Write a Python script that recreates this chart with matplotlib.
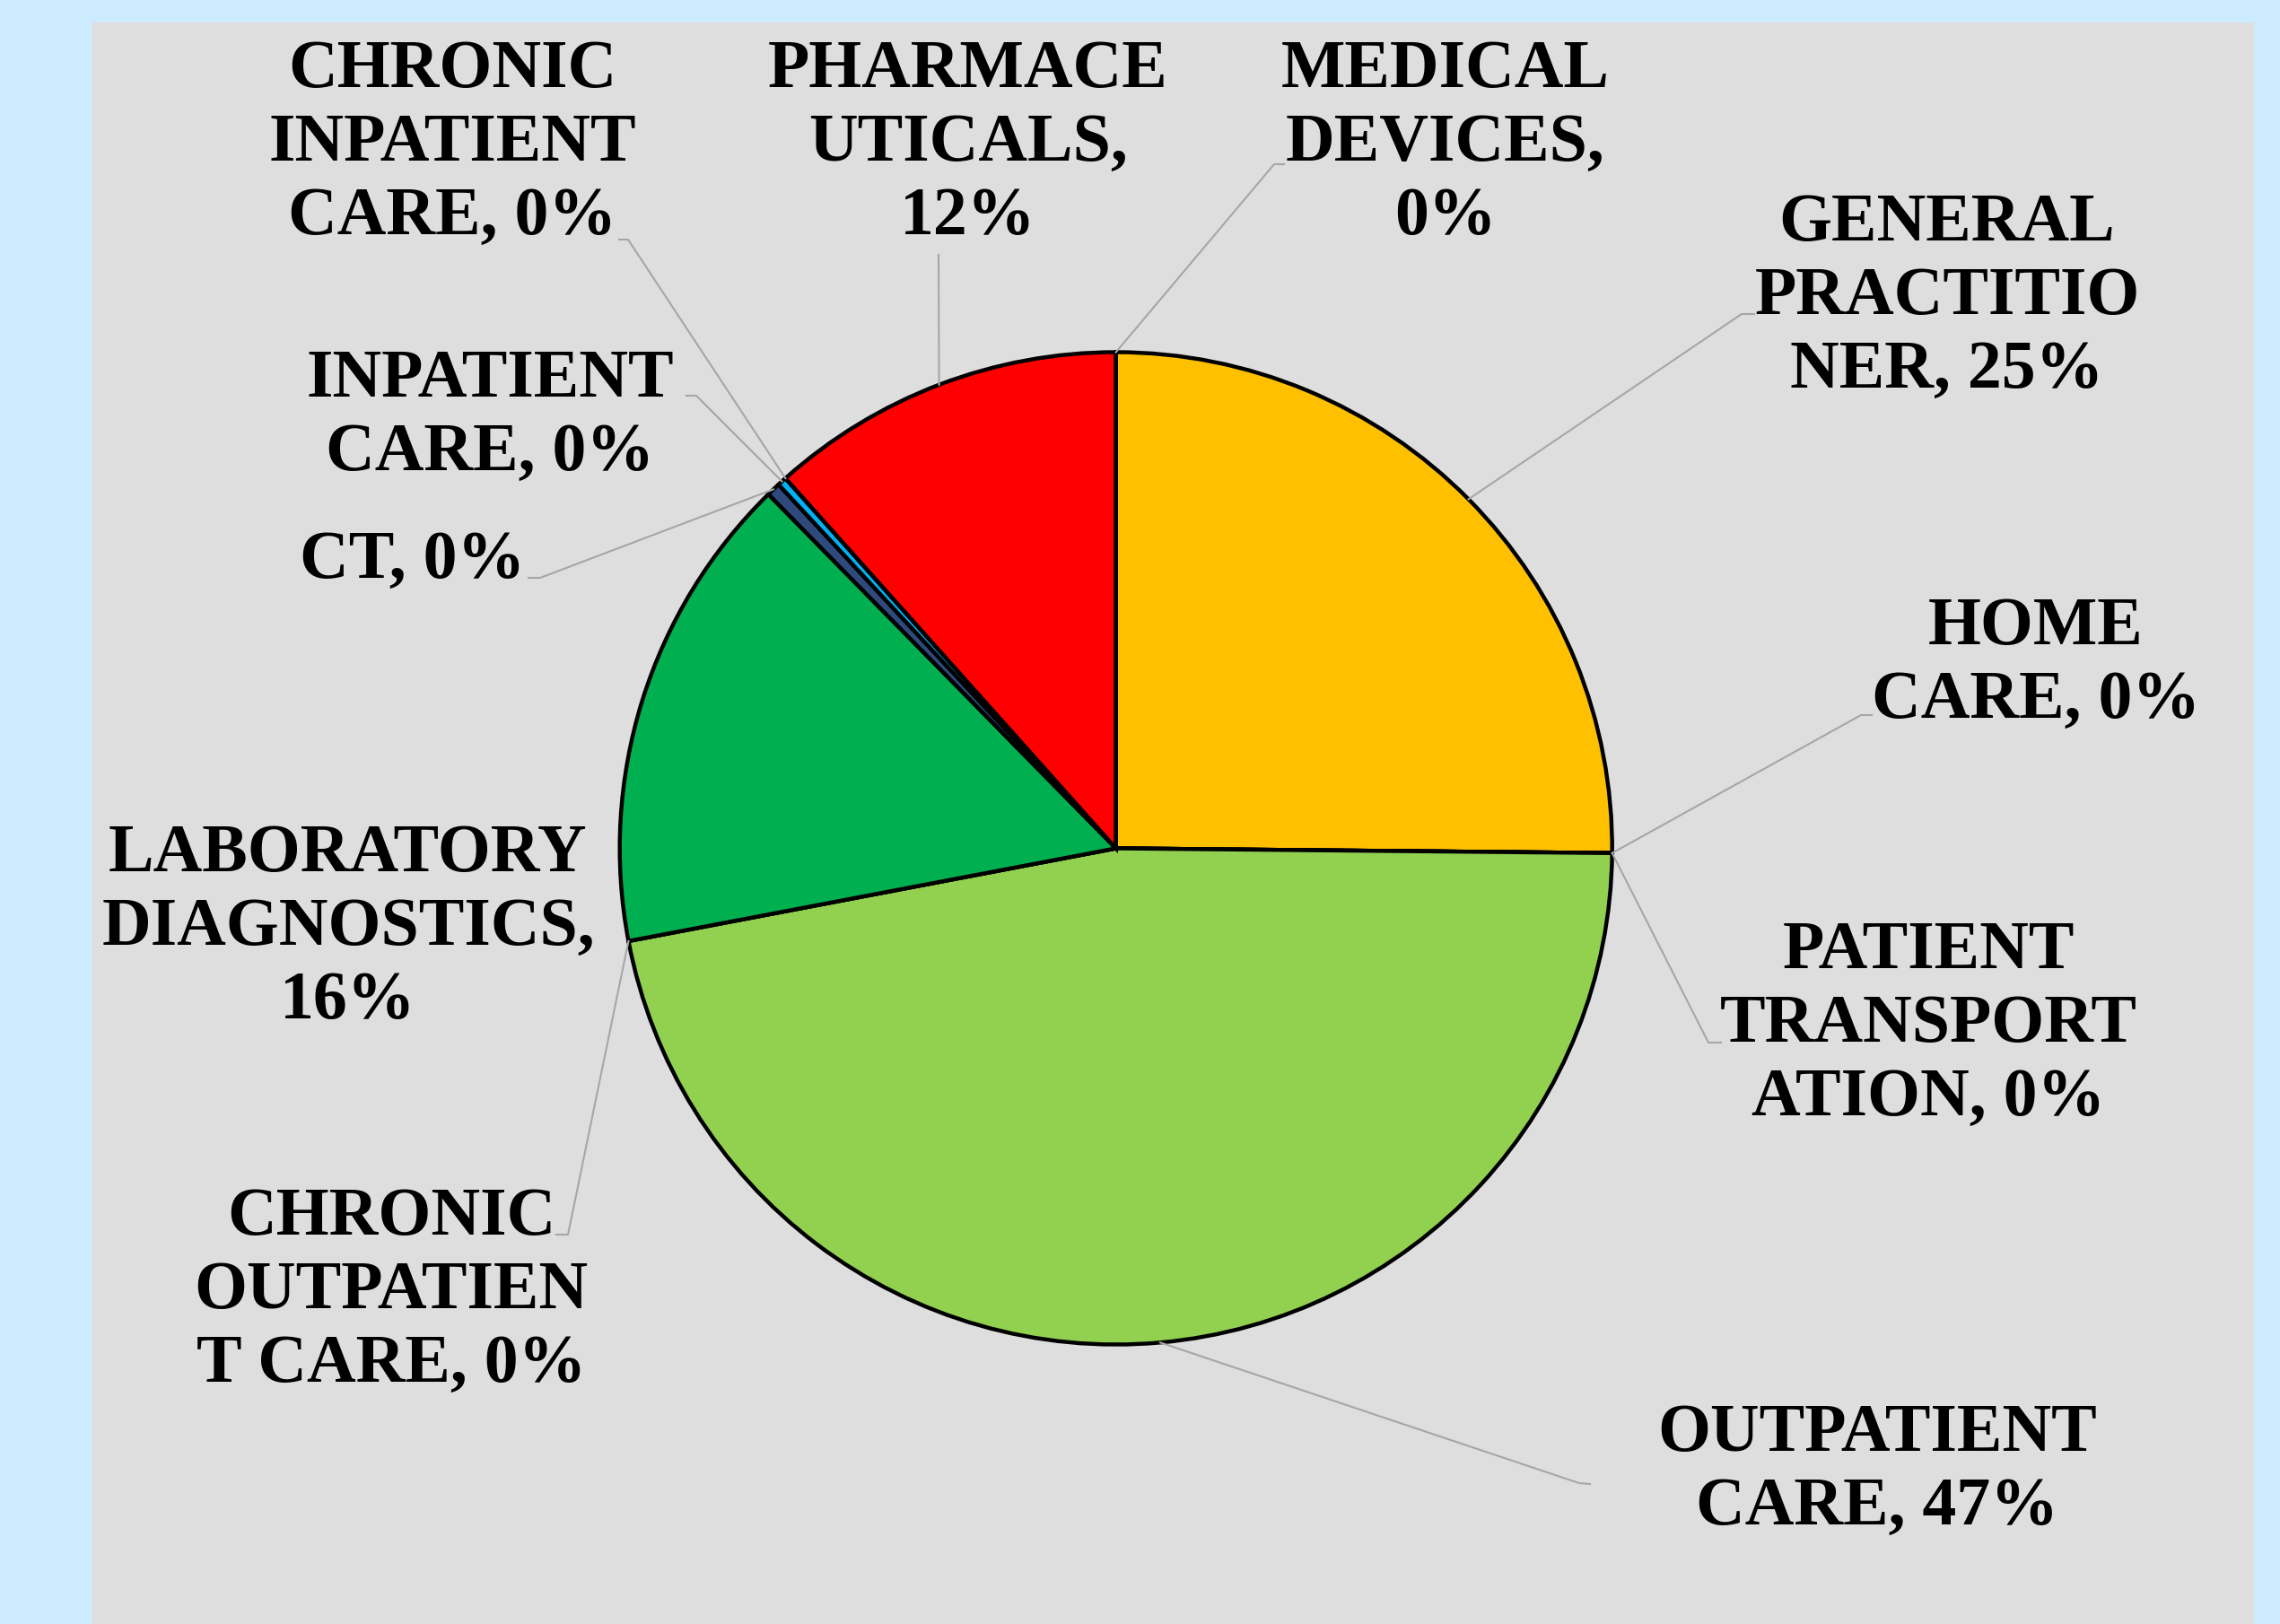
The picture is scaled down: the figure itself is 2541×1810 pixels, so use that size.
import matplotlib.pyplot as plt
import numpy as np

# Data (share of costs, %)
categories = ["General practitioner", "Home care", "Patient transportation",
              "Outpatient care", "Chronic outpatient care", "Laboratory diagnostics",
              "CT", "Inpatient care", "Chronic inpatient care", "Pharmaceuticals",
              "Medical devices"]
values = [25.15, 0.0, 0.0, 46.85, 0.0, 15.64, 0.45, 0.30, 0.0, 11.6, 0.0]
colors = ["#FFC000", "#FFC000", "#92D050", "#92D050", "#92D050", "#00B050",
          "#2E4A7D", "#00B0F0", "#00B0F0", "#FF0000", "#FF0000"]
# label text as wrapped in the original chart
label_text = ["GENERAL\nPRACTITIO\nNER, {}%", "HOME\nCARE, {}%",
              "PATIENT\nTRANSPORT\nATION, {}%", "OUTPATIENT\nCARE, {}%",
              "CHRONIC\nOUTPATIEN\nT CARE, {}%", "LABORATORY\nDIAGNOSTICS,\n{}%",
              "CT, {}%", "INPATIENT\nCARE, {}%", "CHRONIC\nINPATIENT\nCARE, {}%",
              "PHARMACE\nUTICALS,\n{}%", "MEDICAL\nDEVICES,\n{}%"]

# layout in image pixels (y measured from top)
W, H = 2541, 1810
CX, CY, R = 1243.7, 945.5, 553
# label: centre x, first baseline, leader anchor (or None)
label_pos = [(2170, 268, (1941, 350)), (2269, 718, (2074, 797)),
             (2149, 1079, (1904, 1162)), (2092, 1617, (1760, 1653)),
             (436, 1376, (633, 1376)), (388, 971, None),
             (460, 644, (602, 644)), (546, 442, (776, 441)),
             (504, 97, (700, 267)), (1079, 97, (1046, 284)),
             (1611, 97, (1420, 183))]
anchor_tail = [(1955, 350), (2086, 797), (1918, 1162), (1772, 1654),
               (620, 1376), None, (589, 644), (765, 441), (690, 267),
               None, (1431, 183)]
LINE_PITCH = 82

fig = plt.figure(figsize=(W / 100, H / 100), dpi=100)
fig.patch.set_facecolor("#CCEBFF")
ax = fig.add_axes([0, 0, 1, 1])

ax.add_patch(plt.Rectangle((103, 0), 2512 - 103, H - 25, facecolor="#DEDEDE",
                           edgecolor="none", zorder=0))

ax.pie(values, colors=colors, startangle=90, counterclock=False,
       center=(CX, H - CY), radius=R, frame=True,
       wedgeprops=dict(edgecolor="black", linewidth=3.2))

ax.set_xlim(0, W)
ax.set_ylim(0, H)
ax.set_aspect("auto")
ax.axis("off")

total = sum(values)
cum = np.cumsum([0] + values[:-1])
for i, name in enumerate(categories):
    pct = int(round(values[i] / total * 100))
    txt = label_text[i].format(pct)
    x, y0, anchor = label_pos[i]
    for k, line in enumerate(txt.split("\n")):
        ax.text(x, H - (y0 + k * LINE_PITCH), line, ha="center", va="baseline",
                fontsize=54.5, fontweight="bold", family="Liberation Serif",
                color="black", zorder=5)
    if anchor is None:
        continue
    mid = np.radians(90 - 360 * (cum[i] + values[i] / 2) / total)
    px, py = CX + R * np.cos(mid), CY - R * np.sin(mid)
    pts = [anchor, (px, py)]
    if anchor_tail[i] is not None:
        pts = [anchor_tail[i]] + pts
    xs = [p[0] for p in pts]
    ys = [H - p[1] for p in pts]
    ax.plot(xs, ys, color="#A6A6A6", linewidth=1.5, zorder=1)

fig.savefig("out.png", dpi=100, facecolor=fig.get_facecolor())
